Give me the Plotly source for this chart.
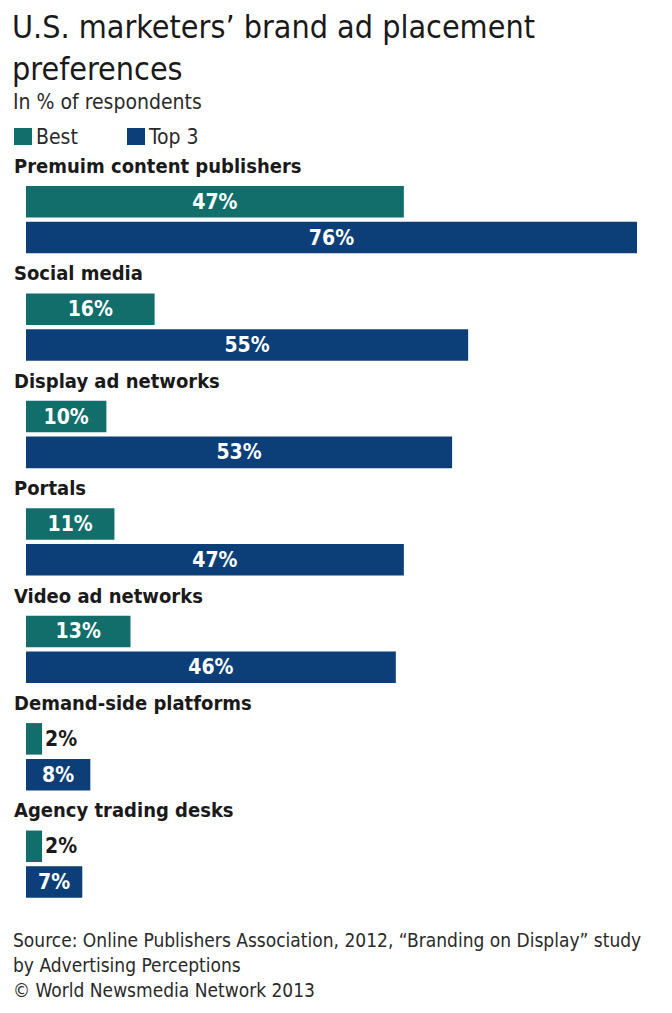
import plotly.graph_objects as go

categories = ["Premuim content publishers", "Social media", "Display ad networks", "Portals",
              "Video ad networks", "Demand-side platforms", "Agency trading desks"]
best = [47, 16, 10, 11, 13, 2, 2]
top3 = [76, 55, 53, 47, 46, 8, 7]

TEAL = "#116e6a"
NAVY = "#0c3f77"
INK = "#1a1a1a"
FONT = "DejaVu Sans Condensed, DejaVu Sans, Roboto, sans-serif"

# the page puts an 8px margin around the figure, so work in page pixels and shift back
OFF = 8
W, H = 672, 1013
L, R, T, B = 26 - OFF, W - (637 - OFF), 148 - OFF, 113 + OFF

# each category uses three rows: its label, the Best bar, the Top 3 bar
label_rows = [3 * i for i in range(len(categories))]
best_rows = [r + 1 for r in label_rows]
top3_rows = [r + 2 for r in label_rows]


def px_x(px):
    return (px - OFF - L) / (W - L - R)


def px_y(py):
    return (H - B - (py - OFF)) / (H - T - B)


def place(vals):
    return ["inside" if v >= 5 else "outside" for v in vals]


fig = go.Figure()
for rows, vals, color, name in [(best_rows, best, TEAL, "Best"), (top3_rows, top3, NAVY, "Top 3")]:
    fig.add_trace(go.Bar(
        y=rows, x=vals, orientation="h", width=0.88, name=name,
        marker=dict(color=color, line_width=0),
        texttemplate="%{x}%", textposition=place(vals), insidetextanchor="middle",
        textangle=0, constraintext="none", cliponaxis=False,
        insidetextfont=dict(color="white", size=21, family=FONT, weight="bold"),
        outsidetextfont=dict(color=INK, size=21, family=FONT, weight="bold"),
        hoverinfo="skip", showlegend=False,
    ))

ann = []
for row, cat in zip(label_rows, categories):
    ann.append(dict(xref="paper", yref="y", x=px_x(12), y=row, xanchor="left", yanchor="middle",
                    text="<b>" + cat + "</b>", font=dict(size=20, color=INK, family=FONT), showarrow=False))


def txt(s, x, y, size, color=INK, anchor="middle"):
    ann.append(dict(xref="paper", yref="paper", x=px_x(x), y=px_y(y), xanchor="left", yanchor=anchor,
                    align="left", text=s, font=dict(size=size, color=color, family=FONT), showarrow=False))


txt("U.S. marketers’ brand ad placement<br>preferences", 10, OFF - 2, 32, anchor="top")
txt("In % of respondents", 11, 102, 21, "#2a2a2a")
txt("Best", 34, 137, 21, "#2a2a2a")
txt("Top 3", 146, 137, 21, "#2a2a2a")
txt("Source: Online Publishers Association, 2012, “Branding on Display” study", 11, 940, 19, "#2a2a2a")
txt("by Advertising Perceptions", 11, 965, 19, "#2a2a2a")
txt("© World Newsmedia Network 2013", 11, 990, 19, "#2a2a2a")

shapes = [
    dict(type="rect", xref="paper", yref="paper", x0=px_x(14), x1=px_x(32), y0=px_y(145), y1=px_y(128),
         fillcolor=TEAL, line_width=0),
    dict(type="rect", xref="paper", yref="paper", x0=px_x(127), x1=px_x(145), y0=px_y(145), y1=px_y(128),
         fillcolor=NAVY, line_width=0),
]

fig.update_layout(
    width=W, height=H, margin=dict(l=L, r=R, t=T, b=B),
    paper_bgcolor="white", plot_bgcolor="white",
    barmode="overlay",
    xaxis=dict(range=[0, 76], visible=False, fixedrange=True),
    yaxis=dict(range=[20.5, -0.5], visible=False, fixedrange=True),
    annotations=ann, shapes=shapes,
    font=dict(family=FONT),
)

fig.write_html("out.html")
